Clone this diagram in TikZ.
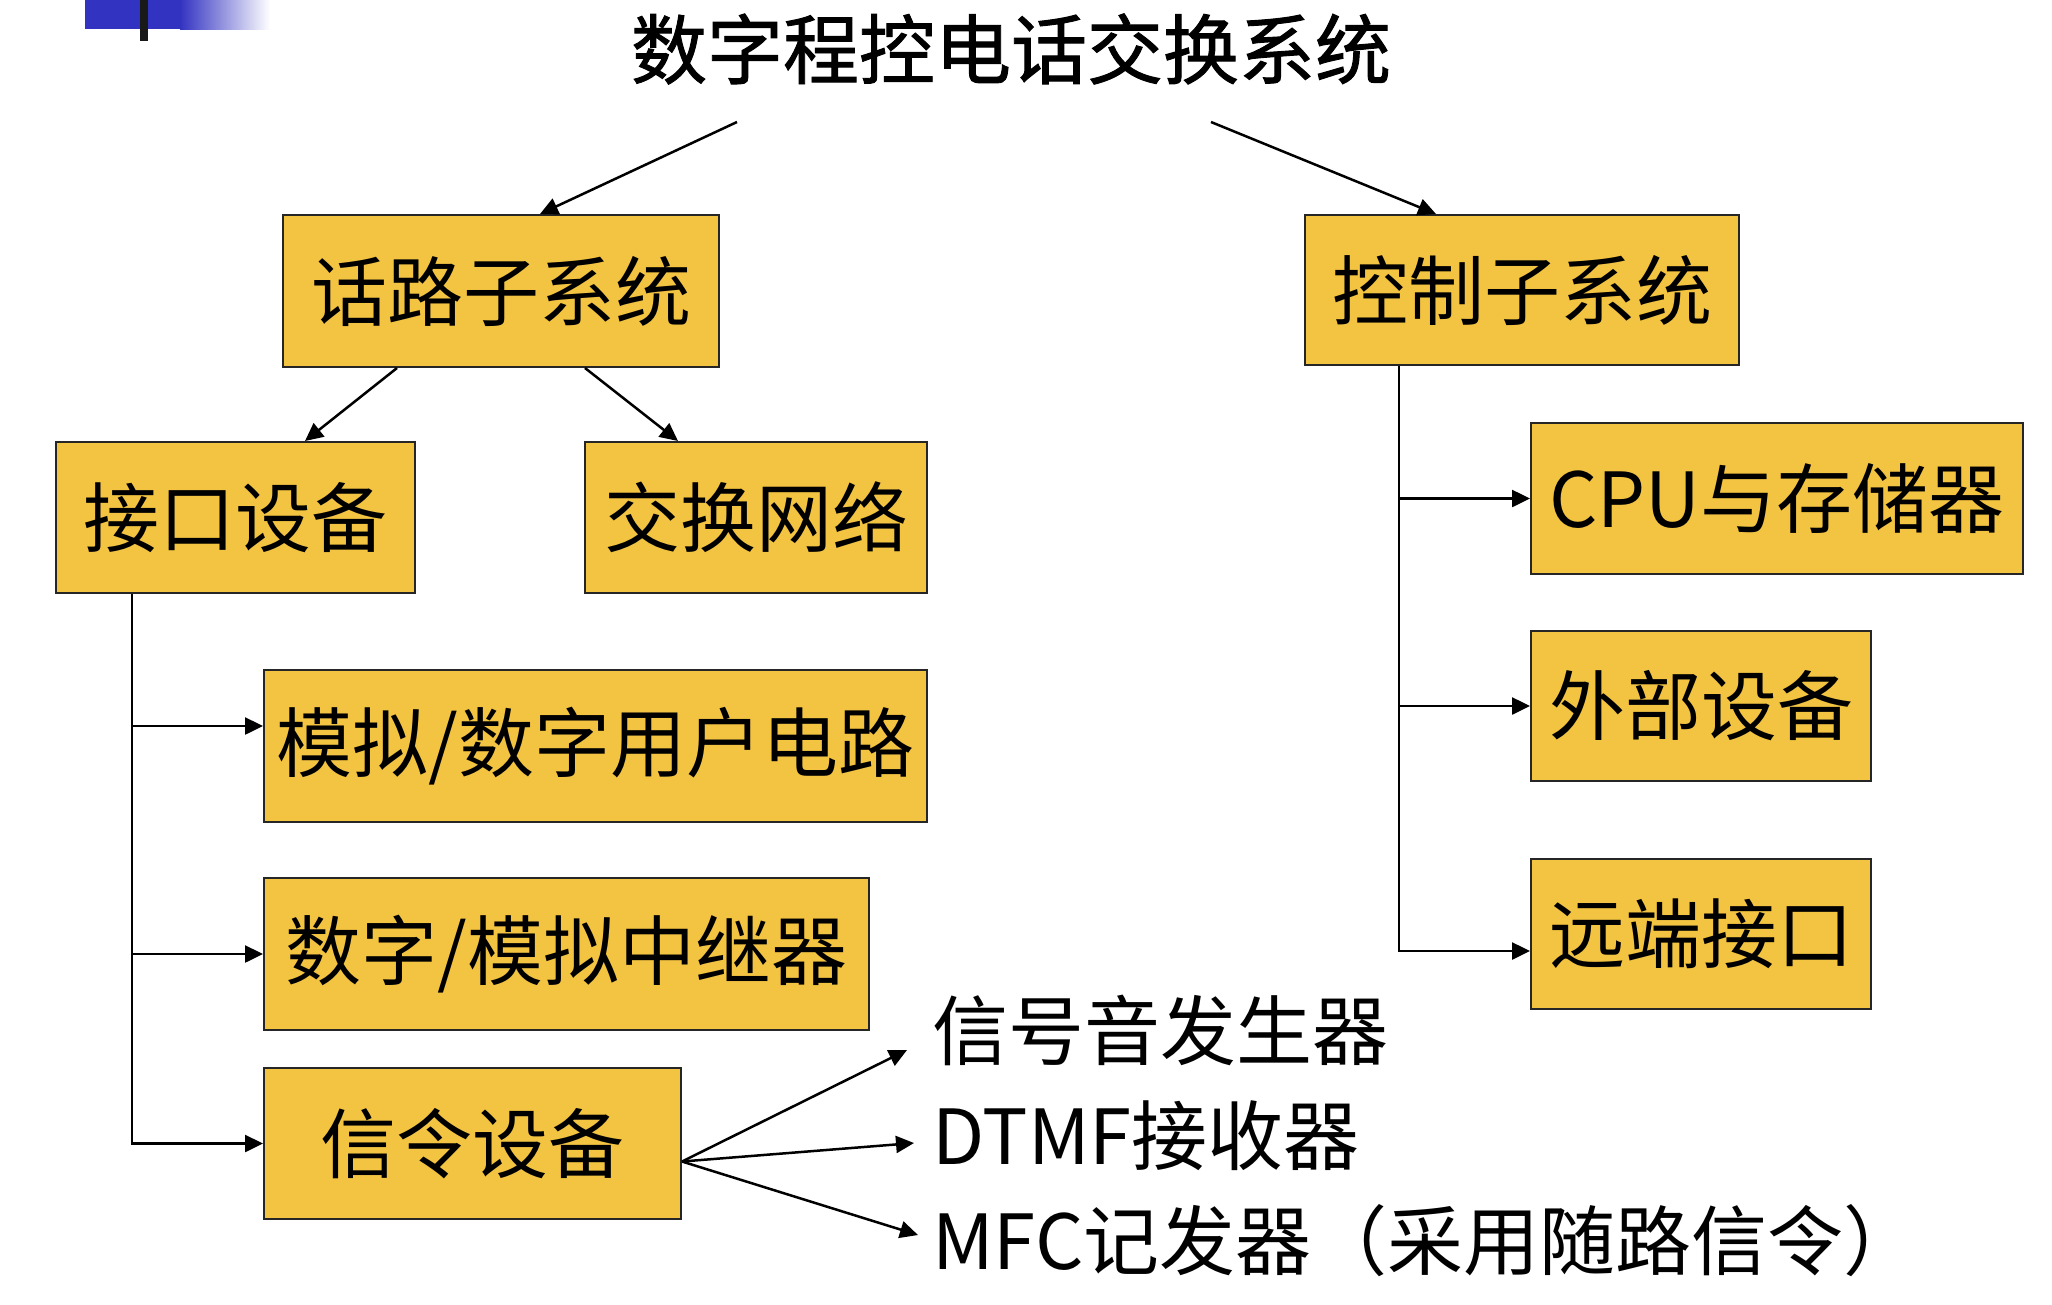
\documentclass[tikz,border=0pt]{standalone}
\usepackage{fontspec}
\setmainfont{Noto Sans CJK SC}
\newfontfamily\cjkfb[FakeBold=1.2]{Noto Sans CJK SC}
\usetikzlibrary{arrows.meta}
\definecolor{boxfill}{HTML}{F3C342}
\definecolor{deco}{HTML}{3333C2}
\tikzset{
  box/.style={draw=black!85, line width=2pt, fill=boxfill, inner sep=0pt,
    font=\fontsize{76}{80}\selectfont},
  conn/.style={line width=2.5pt, black},
  arr/.style={conn, -{Triangle[length=18pt,width=17pt]}},
  lbl/.style={inner sep=0pt, anchor=west, font=\fontsize{76}{80}\selectfont}
}
\begin{document}
\begin{tikzpicture}[x=1pt,y=-1pt]
\useasboundingbox (0,0) rectangle (2052,1304);
% decoration
\fill[deco] (85,0) rectangle (181,29);
\shade[left color=deco, right color=white] (180,0) rectangle (270,29);
\fill[black!90] (140,0) rectangle (148,41);
% title
\node[inner sep=0pt, font=\fontsize{76}{80}\cjkfb] (title) at (1011,49) {数字程控电话交换系统};
% boxes
\node[box, minimum width=436pt, minimum height=152pt] (hl) at (501,291) {话路子系统};
\node[box, minimum width=434pt, minimum height=150pt] (kz) at (1522,290) {控制子系统};
\node[box, minimum width=359pt, minimum height=151pt] (jk) at (235.5,517.5) {接口设备};
\node[box, minimum width=342pt, minimum height=151pt] (jh) at (756,517.5) {交换网络};
\node[box, minimum width=663pt, minimum height=152pt] (mn) at (595.5,746) {模拟/数字用户电路};
\node[box, minimum width=605pt, minimum height=152pt] (sz) at (566.5,954) {数字/模拟中继器};
\node[box, minimum width=417pt, minimum height=151pt] (xl) at (472.5,1143.5) {信令设备};
\node[box, minimum width=492pt, minimum height=151pt] (cpu) at (1777,498.5) {CPU与存储器};
\node[box, minimum width=340pt, minimum height=150pt] (wb) at (1701,706) {外部设备};
\node[box, minimum width=340pt, minimum height=150pt] (yd) at (1701,934) {远端接口};
% labels
\node[lbl] (s1) at (932,1030) {信号音发生器};
\node[lbl] (s2) at (932,1136) {DTMF接收器};
\node[lbl] (s3) at (932,1241) {MFC记发器（采用随路信令）};
% title arrows
\coordinate (t1) at (737,122);
\coordinate (t2) at (1211,122);
\draw[arr] (t1) -- ([xshift=39pt]hl.north);
\draw[arr] (t2) -- ([xshift=-86pt]kz.north);
\draw[arr] ([xshift=-104pt]hl.south) -- ([xshift=69.5pt]jk.north);
\draw[arr] ([xshift=84pt]hl.south) -- ([xshift=-78pt]jh.north);
% left trunk
\coordinate (L) at (132,0);
\coordinate (m1) at ([yshift=20pt]mn.west);
\draw[arr] (jk.south -| L) -- (xl.west -| L) -- (xl.west);
\draw[arr] (m1 -| L) -- (m1);
\draw[arr] (sz.west -| L) -- (sz.west);
% right trunk
\coordinate (R) at (1399,0);
\coordinate (y1) at ([yshift=-17pt]yd.west);
\draw[arr] (kz.south -| R) -- (y1 -| R) -- (y1);
\draw[arr] (cpu.west -| R) -- (cpu.west);
\draw[arr] (wb.west -| R) -- (wb.west);
% fan
\coordinate (f0) at ([yshift=-18pt]xl.east);
\coordinate (f1) at (907,1050);
\coordinate (f2) at (914,1143);
\coordinate (f3) at (918,1235);
\draw[arr] (f0) -- (f1);
\draw[arr] (f0) -- (f2);
\draw[arr] (f0) -- (f3);
\end{tikzpicture}
\end{document}
